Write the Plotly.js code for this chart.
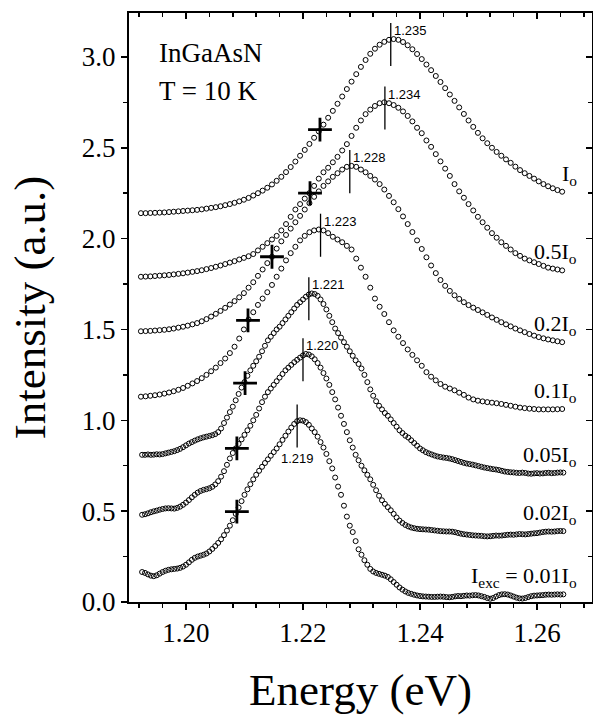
<!DOCTYPE html>
<html>
<head>
<meta charset="utf-8">
<script src="https://cdn.plot.ly/plotly-3.0.1.min.js"></script>
<style>html,body{margin:0;padding:0;background:#fff}#plot{width:593px;height:717px}</style>
</head>
<body>
<div id="plot"></div>
<script>
// Energy grid of the sparse spectra (Io, 0.5Io, 0.2Io, 0.1Io), eV
const energyA = [1.1923,1.1931,1.1939,1.1947,1.1955,1.1963,1.1971,1.1979,1.1987,1.1995,
1.2003,1.2011,1.2019,1.2027,1.2035,1.2043,1.2051,1.2059,1.2067,1.2075,
1.2083,1.2091,1.2099,1.2107,1.2115,1.2123,1.2131,1.2139,1.2147,1.2155,
1.2163,1.2171,1.2179,1.2187,1.2195,1.2203,1.2211,1.2219,1.2227,1.2235,
1.2243,1.2251,1.2259,1.2267,1.2275,1.2283,1.2291,1.2299,1.2307,1.2315,
1.2323,1.2331,1.2339,1.2347,1.2355,1.2363,1.2371,1.2379,1.2387,1.2395,
1.2403,1.2411,1.2419,1.2427,1.2435,1.2443,1.2451,1.2459,1.2467,1.2475,
1.2483,1.2491,1.2499,1.2507,1.2515,1.2523,1.2531,1.2539,1.2547,1.2555,
1.2563,1.2571,1.2579,1.2587,1.2595,1.2603,1.2611,1.2619,1.2627,1.2635,
1.2643];

// Energy grid of the dense spectra (0.05Io, 0.02Io, 0.01Io), eV
const energyB = [1.1925,1.193,1.1935,1.194,1.1945,1.195,1.1955,1.196,1.1965,1.197,
1.1975,1.198,1.1985,1.199,1.1995,1.2,1.2005,1.201,1.2015,1.202,
1.2025,1.203,1.2035,1.204,1.2045,1.205,1.2055,1.206,1.2065,1.207,
1.2075,1.208,1.2085,1.209,1.2095,1.21,1.2105,1.211,1.2115,1.212,
1.2125,1.213,1.2135,1.214,1.2145,1.215,1.2155,1.216,1.2165,1.217,
1.2175,1.218,1.2185,1.219,1.2195,1.22,1.2205,1.221,1.2215,1.222,
1.2225,1.223,1.2235,1.224,1.2245,1.225,1.2255,1.226,1.2265,1.227,
1.2275,1.228,1.2285,1.229,1.2295,1.23,1.2305,1.231,1.2315,1.232,
1.2325,1.233,1.2335,1.234,1.2345,1.235,1.2355,1.236,1.2365,1.237,
1.2375,1.238,1.2385,1.239,1.2395,1.24,1.2405,1.241,1.2415,1.242,
1.2425,1.243,1.2435,1.244,1.2445,1.245,1.2455,1.246,1.2465,1.247,
1.2475,1.248,1.2485,1.249,1.2495,1.25,1.2505,1.251,1.2515,1.252,
1.2525,1.253,1.2535,1.254,1.2545,1.255,1.2555,1.256,1.2565,1.257,
1.2575,1.258,1.2585,1.259,1.2595,1.26,1.2605,1.261,1.2615,1.262,
1.2625,1.263,1.2635,1.264,1.2645];

// Intensities (a.u., with vertical offsets as plotted)
const int_1 = [2.140,2.140,2.141,2.142,2.143,2.144,2.146,2.148,2.150,2.152,
2.154,2.156,2.158,2.161,2.165,2.169,2.173,2.178,2.184,2.190,
2.197,2.205,2.214,2.224,2.237,2.250,2.264,2.280,2.298,2.318,
2.340,2.366,2.394,2.424,2.456,2.488,2.521,2.555,2.590,2.627,
2.665,2.703,2.742,2.782,2.823,2.864,2.905,2.945,2.983,3.017,
3.045,3.067,3.083,3.094,3.098,3.094,3.082,3.064,3.042,3.016,
2.988,2.958,2.927,2.895,2.862,2.828,2.793,2.758,2.722,2.686,
2.650,2.615,2.582,2.552,2.525,2.500,2.477,2.456,2.436,2.417,
2.396,2.377,2.360,2.345,2.330,2.315,2.300,2.288,2.277,2.267,
2.258];

const int_05 = [1.790,1.791,1.792,1.794,1.796,1.798,1.800,1.803,1.806,1.809,
1.813,1.817,1.821,1.826,1.832,1.838,1.845,1.852,1.860,1.868,
1.876,1.885,1.894,1.903,1.915,1.935,1.955,1.975,1.995,2.015,
2.045,2.080,2.120,2.160,2.190,2.220,2.250,2.290,2.330,2.365,
2.390,2.420,2.450,2.485,2.520,2.565,2.610,2.650,2.685,2.710,
2.730,2.745,2.750,2.745,2.735,2.720,2.700,2.675,2.645,2.610,
2.580,2.540,2.505,2.465,2.425,2.385,2.345,2.300,2.260,2.225,
2.190,2.155,2.120,2.090,2.060,2.030,2.005,1.980,1.960,1.940,
1.920,1.905,1.890,1.880,1.870,1.860,1.850,1.840,1.835,1.830,
1.825];

const int_02 = [1.490,1.491,1.492,1.494,1.496,1.498,1.501,1.505,1.510,1.515,
1.521,1.528,1.535,1.545,1.557,1.571,1.586,1.602,1.619,1.637,
1.656,1.677,1.700,1.730,1.760,1.795,1.830,1.865,1.900,1.945,
1.985,2.020,2.055,2.090,2.125,2.160,2.195,2.230,2.260,2.290,
2.315,2.340,2.360,2.380,2.395,2.400,2.395,2.380,2.365,2.345,
2.325,2.300,2.270,2.235,2.200,2.162,2.122,2.080,2.036,1.990,
1.943,1.897,1.852,1.810,1.772,1.740,1.712,1.688,1.668,1.650,
1.634,1.620,1.607,1.594,1.580,1.566,1.553,1.540,1.528,1.517,
1.505,1.495,1.485,1.475,1.466,1.458,1.451,1.445,1.440,1.435,
1.430];

const int_01 = [1.130,1.132,1.135,1.138,1.142,1.147,1.153,1.160,1.168,1.178,
1.190,1.203,1.216,1.232,1.250,1.270,1.290,1.315,1.340,1.370,
1.405,1.450,1.500,1.555,1.595,1.635,1.670,1.705,1.745,1.790,
1.835,1.880,1.920,1.955,1.990,2.015,2.035,2.045,2.050,2.045,
2.030,2.010,1.995,1.980,1.960,1.940,1.890,1.840,1.790,1.730,
1.670,1.625,1.585,1.540,1.495,1.460,1.425,1.390,1.360,1.330,
1.300,1.265,1.240,1.220,1.200,1.185,1.175,1.165,1.152,1.140,
1.125,1.115,1.108,1.104,1.100,1.097,1.094,1.090,1.085,1.080,
1.075,1.070,1.067,1.064,1.062,1.060,1.060,1.060,1.060,1.061,
1.062];

const int_005 = [0.810,0.810,0.812,0.810,0.811,0.813,0.812,0.814,0.818,0.822,
0.826,0.830,0.836,0.843,0.852,0.862,0.872,0.880,0.888,0.895,
0.901,0.906,0.910,0.914,0.918,0.924,0.935,0.955,0.985,1.015,
1.045,1.075,1.110,1.145,1.180,1.210,1.245,1.275,1.300,1.325,
1.350,1.380,1.410,1.440,1.460,1.480,1.500,1.515,1.535,1.555,
1.575,1.595,1.615,1.635,1.650,1.665,1.680,1.692,1.698,1.695,
1.685,1.665,1.640,1.610,1.575,1.540,1.505,1.480,1.455,1.430,
1.405,1.380,1.355,1.330,1.310,1.285,1.250,1.210,1.170,1.135,
1.105,1.080,1.060,1.040,1.025,1.005,0.985,0.965,0.945,0.930,
0.915,0.905,0.890,0.875,0.860,0.845,0.835,0.825,0.818,0.812,
0.806,0.801,0.798,0.795,0.793,0.790,0.786,0.781,0.776,0.771,
0.766,0.762,0.759,0.756,0.752,0.748,0.744,0.740,0.737,0.734,
0.731,0.729,0.726,0.722,0.718,0.716,0.714,0.713,0.711,0.710,
0.712,0.710,0.707,0.706,0.708,0.709,0.707,0.708,0.710,0.711,
0.709,0.710,0.712,0.713,0.712];

const int_002 = [0.480,0.483,0.488,0.494,0.499,0.503,0.508,0.512,0.515,0.516,
0.515,0.514,0.518,0.525,0.535,0.547,0.561,0.576,0.590,0.602,
0.611,0.617,0.621,0.626,0.634,0.647,0.665,0.690,0.720,0.755,
0.790,0.820,0.845,0.870,0.895,0.920,0.945,0.970,1.000,1.030,
1.065,1.100,1.130,1.155,1.175,1.195,1.215,1.235,1.255,1.275,
1.290,1.305,1.320,1.333,1.345,1.357,1.365,1.362,1.352,1.336,
1.315,1.290,1.260,1.230,1.195,1.155,1.115,1.070,1.025,0.980,
0.935,0.890,0.850,0.810,0.780,0.750,0.725,0.700,0.675,0.645,
0.615,0.585,0.560,0.540,0.522,0.505,0.485,0.465,0.448,0.435,
0.424,0.416,0.410,0.406,0.403,0.401,0.400,0.399,0.398,0.396,
0.394,0.392,0.390,0.389,0.388,0.388,0.387,0.384,0.380,0.376,
0.373,0.371,0.369,0.367,0.366,0.365,0.364,0.362,0.361,0.362,
0.364,0.366,0.365,0.366,0.368,0.370,0.371,0.370,0.372,0.374,
0.373,0.372,0.374,0.376,0.378,0.379,0.382,0.385,0.387,0.388,
0.387,0.388,0.390,0.391,0.390];

const int_001 = [0.165,0.160,0.152,0.145,0.142,0.147,0.156,0.165,0.172,0.177,
0.180,0.182,0.184,0.188,0.195,0.205,0.218,0.232,0.243,0.250,
0.255,0.260,0.267,0.278,0.292,0.308,0.325,0.345,0.368,0.393,
0.420,0.450,0.485,0.520,0.555,0.590,0.620,0.648,0.675,0.700,
0.722,0.744,0.765,0.785,0.805,0.825,0.845,0.868,0.892,0.915,
0.938,0.960,0.980,0.995,1.000,0.998,0.990,0.975,0.955,0.935,
0.910,0.880,0.850,0.815,0.775,0.735,0.685,0.635,0.590,0.530,
0.470,0.420,0.385,0.335,0.290,0.260,0.230,0.205,0.182,0.168,
0.160,0.155,0.150,0.145,0.138,0.125,0.110,0.095,0.080,0.068,
0.058,0.050,0.045,0.040,0.036,0.033,0.031,0.030,0.029,0.028,
0.028,0.029,0.030,0.029,0.027,0.026,0.028,0.031,0.033,0.032,
0.034,0.036,0.035,0.037,0.038,0.036,0.032,0.028,0.022,0.018,
0.022,0.030,0.038,0.042,0.043,0.041,0.036,0.030,0.024,0.020,
0.019,0.022,0.027,0.032,0.035,0.036,0.037,0.038,0.040,0.041,
0.040,0.041,0.042,0.041,0.042];

// Curve labels (top to bottom)
const curveLabels = ['I<sub>o</sub>','0.5I<sub>o</sub>','0.2I<sub>o</sub>','0.1I<sub>o</sub>',
  '0.05I<sub>o</sub>','0.02I<sub>o</sub>','I<sub>exc</sub> = 0.01I<sub>o</sub>'];

// Peak positions (eV) and peak intensities
const peakE = [1.235,1.234,1.228,1.223,1.221,1.220,1.219];
const peakI = [3.10,2.75,2.40,2.05,1.70,1.365,1.00];
const peakText = ['1.235','1.234','1.228','1.223','1.221','1.220','1.219'];

// Half-maximum points (low-energy side) marked with crosses
const halfE = [1.2229,1.2212,1.2147,1.2106,1.2101,1.2087,1.2087];
const halfI = [2.60,2.25,1.90,1.55,1.205,0.845,0.497];

const series = [
  {x: energyA, y: int_1},
  {x: energyA, y: int_05},
  {x: energyA, y: int_02},
  {x: energyA, y: int_01},
  {x: energyB, y: int_005},
  {x: energyB, y: int_002},
  {x: energyB, y: int_001}
];

const serif = 'Liberation Serif, Times New Roman, serif';
const sans = 'Liberation Sans, Arial, sans-serif';
const xr = [1.19026, 1.2694];
const yr = [0, 3.2416];

const traces = series.map(s => ({
  type: 'scatter', mode: 'markers', x: s.x, y: s.y,
  marker: {symbol: 'circle-open', size: 5, color: 'black', line: {width: 1, color: 'black'}},
  hoverinfo: 'skip', showlegend: false
}));

// vertical peak marker lines
const lx = [], ly = [];
peakE.forEach((e, i) => { lx.push(e, e, null); ly.push(peakI[i] - 0.15, peakI[i] + 0.087, null); });
traces.push({type: 'scatter', mode: 'lines', x: lx, y: ly,
  line: {color: 'black', width: 1.3}, hoverinfo: 'skip', showlegend: false});

// half-maximum crosses (drawn on the mirrored axes, same ranges)
traces.push({type: 'scatter', mode: 'markers', x: halfE, y: halfI, xaxis: 'x2', yaxis: 'y2',
  marker: {symbol: 'cross-thin', size: 17, color: 'black', line: {width: 2.8, color: 'black'}},
  hoverinfo: 'skip', showlegend: false});

const annotations = [];
peakE.forEach((e, i) => {
  if (i < 6) {
    annotations.push({x: e, y: peakI[i] + 0.087, xref: 'x', yref: 'y', text: peakText[i],
      showarrow: false, xanchor: 'left', yanchor: 'top', xshift: 1, yshift: 2,
      font: {family: sans, size: 13, color: 'black'}});
  } else {
    annotations.push({x: e, y: peakI[i] - 0.15, xref: 'x', yref: 'y', text: peakText[i],
      showarrow: false, xanchor: 'center', yanchor: 'top', yshift: -1,
      font: {family: sans, size: 13, color: 'black'}});
  }
});
series.forEach((s, i) => {
  annotations.push({x: 1.2671, y: s.y[s.y.length - 1], xref: 'x', yref: 'y', text: curveLabels[i],
    showarrow: false, xanchor: 'right', yanchor: 'middle', yshift: 17,
    font: {family: serif, size: 22, color: 'black'}});
});
annotations.push({x: 0.0605, y: 0.932, xref: 'paper', yref: 'paper', text: 'InGaAsN',
  showarrow: false, xanchor: 'left', yanchor: 'middle', font: {family: serif, size: 27, color: 'black'}});
annotations.push({x: 0.0605, y: 0.8676, xref: 'paper', yref: 'paper', text: 'T = 10 K',
  showarrow: false, xanchor: 'left', yanchor: 'middle', font: {family: serif, size: 27, color: 'black'}});

const layout = {
  width: 593, height: 717,
  margin: {l: 129, r: 1, t: 13, b: 115, pad: 0},
  paper_bgcolor: 'white', plot_bgcolor: 'white',
  showlegend: false,
  xaxis: {
    range: xr, showline: true, linewidth: 2, linecolor: 'black', mirror: true,
    ticks: 'outside', ticklen: 6, tickwidth: 1.5, tickcolor: 'black',
    tick0: 1.2, dtick: 0.02, tickformat: '.2f',
    minor: {dtick: 0.004, tick0: 1.2, ticks: 'outside', ticklen: 4, tickwidth: 1.5, tickcolor: 'black', showgrid: false},
    showgrid: false, zeroline: false,
    tickfont: {family: serif, size: 27, color: 'black'},
    title: {text: 'Energy (eV)', font: {family: serif, size: 45, color: 'black'}, standoff: 26}
  },
  yaxis: {
    range: yr, showline: true, linewidth: 2, linecolor: 'black', mirror: true,
    ticks: 'outside', ticklen: 6, tickwidth: 1.5, tickcolor: 'black',
    tick0: 0, dtick: 0.5, tickformat: '.1f',
    minor: {dtick: 0.25, tick0: 0, ticks: 'outside', ticklen: 4, tickwidth: 1.5, tickcolor: 'black', showgrid: false},
    showgrid: false, zeroline: false,
    tickfont: {family: serif, size: 27, color: 'black'},
    title: {text: 'Intensity (a.u.)', font: {family: serif, size: 45, color: 'black'}, standoff: 22}
  },
  xaxis2: {
    overlaying: 'x', side: 'top', range: xr, showline: false, showticklabels: false,
    ticks: 'inside', ticklen: 6, tickwidth: 1.5, tickcolor: 'black', tick0: 1.2, dtick: 0.02,
    minor: {dtick: 0.004, tick0: 1.2, ticks: 'inside', ticklen: 4, tickwidth: 1.5, tickcolor: 'black', showgrid: false},
    showgrid: false, zeroline: false
  },
  yaxis2: {
    overlaying: 'y', side: 'right', range: yr, showline: false, showticklabels: false,
    ticks: 'inside', ticklen: 6, tickwidth: 1.5, tickcolor: 'black', tick0: 0, dtick: 0.5,
    minor: {dtick: 0.25, tick0: 0, ticks: 'inside', ticklen: 4, tickwidth: 1.5, tickcolor: 'black', showgrid: false},
    showgrid: false, zeroline: false
  },
  annotations: annotations
};

Plotly.newPlot('plot', traces, layout, {staticPlot: true, displayModeBar: false});
</script>
</body>
</html>
